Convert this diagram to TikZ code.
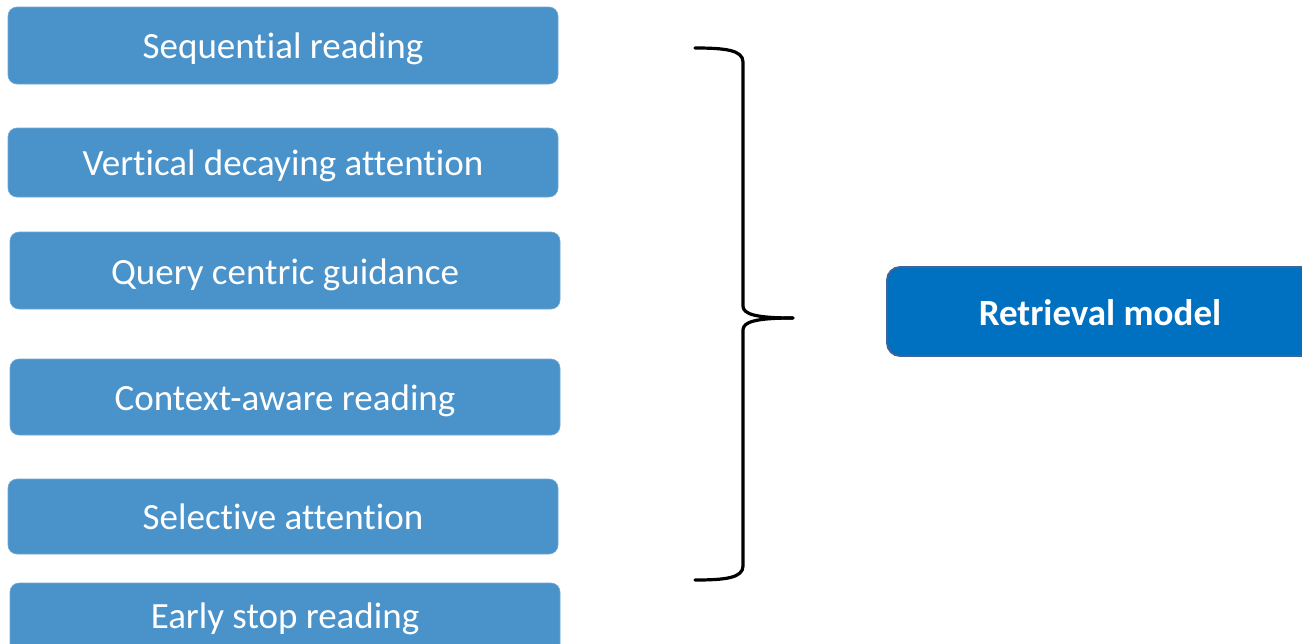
\documentclass[tikz,border=0pt]{standalone}
\usepackage{fontspec}
\setmainfont[Ligatures=NoCommon,RawFeature={-liga}]{Carlito}
\definecolor{leftblue}{RGB}{74,146,202}
\definecolor{modelblue}{RGB}{0,112,192}
\definecolor{modeledge}{RGB}{65,100,150}
\begin{document}
\begin{tikzpicture}[x=1pt,y=-1pt,
  itembox/.style={fill=leftblue,draw=leftblue!80!white,line width=0.6pt,rounded corners=9pt},
  itemtext/.style={font=\fontsize{37}{44}\selectfont,text=white,anchor=base},
  modelbox/.style={fill=modelblue,draw=modeledge,line width=1.8pt,rounded corners=13pt},
  modeltext/.style={font=\bfseries\fontsize{37}{44}\selectfont,text=white,anchor=base},
  bracepath/.style={draw=black,line width=3.2pt,line cap=round,line join=round}]
\useasboundingbox (0,0) rectangle (1302,643);
\clip (0,0) rectangle (1302,643);
% left boxes
\path[itembox] (8,7) rectangle (558,84);
\node[itemtext] (b1) at (283,58) {Sequential reading};
\path[itembox] (8,128) rectangle (558,197);
\node[itemtext] (b2) at (283,175) {Vertical decaying attention};
\path[itembox] (10,232) rectangle (560,309);
\node[itemtext] (b3) at (285,284) {Query centric guidance};
\path[itembox] (10,359) rectangle (560,435);
\node[itemtext] (b4) at (285,410) {Context-aware reading};
\path[itembox] (8,479) rectangle (558,554);
\node[itemtext] (b5) at (283,529) {Selective attention};
\path[itembox] (10,583) rectangle (560,665);
\node[itemtext] (b6) at (285,628) {Early stop reading};
% model box
\path[modelbox] (887,267) rectangle (1330,356);
\node[modeltext] (m) at (1100,325) {Retrieval model};
% brace
\coordinate (btop) at (695,48);
\coordinate (bbot) at (695,580);
\coordinate (btip) at (793,318);
\draw[bracepath] (btop) .. controls (725,48) and (743,50) .. (743,62)
  -- (743,306) .. controls (743,314) and (755,318) .. (btip);
\draw[bracepath] (btip) .. controls (755,318) and (743,322) .. (743,330)
  -- (743,566) .. controls (743,578) and (725,580) .. (bbot);
\end{tikzpicture}
\end{document}
